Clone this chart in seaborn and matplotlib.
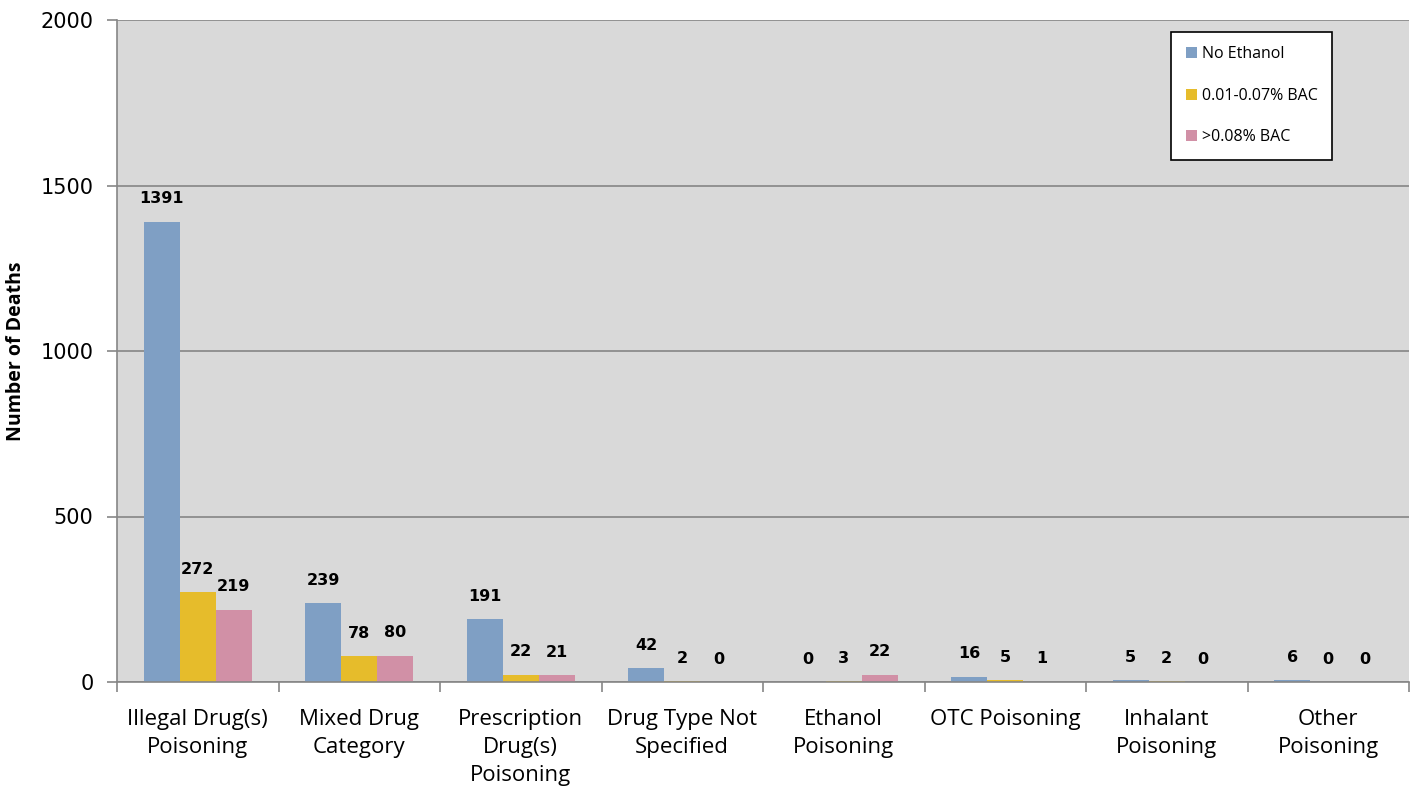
import pandas as pd
import matplotlib.pyplot as plt
import seaborn as sns

sns.set_style("white")
plt.rcParams["text.color"] = "black"
plt.rcParams["axes.labelcolor"] = "black"
plt.rcParams["xtick.color"] = "black"
plt.rcParams["ytick.color"] = "black"

categories = ["Illegal Drug(s)\nPoisoning", "Mixed Drug\nCategory", "Prescription\nDrug(s)\nPoisoning",
              "Drug Type Not\nSpecified", "Ethanol\nPoisoning", "OTC Poisoning",
              "Inhalant\nPoisoning", "Other\nPoisoning"]
no_ethanol = [1391, 239, 191, 42, 0, 16, 5, 6]
low_bac = [272, 78, 22, 2, 3, 5, 2, 0]
high_bac = [219, 80, 21, 0, 22, 1, 0, 0]
series = ["No Ethanol", "0.01-0.07% BAC", ">0.08% BAC"]
colors = ["#7F9FC4", "#E6BC2B", "#D190A6"]

rows = []
for name, vals in zip(series, [no_ethanol, low_bac, high_bac]):
    for cat, v in zip(categories, vals):
        rows.append({"category": cat, "group": name, "deaths": v})
df = pd.DataFrame(rows)

fig = plt.figure(figsize=(14.15, 7.99), dpi=100)
ax = fig.add_axes([117 / 1415, 1 - 682 / 799, 1292 / 1415, 662 / 799])
ax.set_facecolor("#D9D9D9")

sns.barplot(data=df, x="category", y="deaths", hue="group", hue_order=series,
            palette=colors, width=0.67, gap=0, saturation=1, linewidth=0,
            ax=ax, legend=True)

# value labels above each bar
for cont in ax.containers:
    ax.bar_label(cont, padding=11, fontsize=11.5, fontweight="bold",
                 family="DejaVu Sans", color="black")

ax.set_ylim(0, 2000)
ax.set_xlim(-0.5, 7.5)
ax.set_yticks([0, 500, 1000, 1500, 2000])
ax.yaxis.grid(True, color="#868686", linewidth=1.2)
ax.set_axisbelow(True)
ax.set_xlabel("")
ax.set_ylabel("Number of Deaths", fontsize=14, fontweight="bold", family="Open Sans")
ax.yaxis.set_label_coords(-0.0705, 0.5)

for s in ["top", "right"]:
    ax.spines[s].set_visible(False)
for s in ["left", "bottom"]:
    ax.spines[s].set_color("#868686")
    ax.spines[s].set_linewidth(1.2)

ax.tick_params(axis="y", left=True, length=7, width=1.2, color="#868686",
               labelsize=15, pad=10)
ax.tick_params(axis="x", bottom=False, labelsize=16, pad=16)
for lab in ax.get_xticklabels():
    lab.set_family("Open Sans")
    lab.set_linespacing(1.42)
# tick marks between the categories
ax.set_xticks([i + 0.5 for i in range(-1, 8)], minor=True)
ax.tick_params(axis="x", which="minor", bottom=True, length=7, color="#868686", width=1.2)

leg = ax.legend(loc="upper right", bbox_to_anchor=(0.9404, 0.982), frameon=True,
                fancybox=False, edgecolor="black", facecolor="white", framealpha=1,
                fontsize=11.5, handlelength=0.7, handleheight=0.7, handletextpad=0.3,
                labelspacing=1.6, borderpad=0.9, borderaxespad=0)
leg.get_frame().set_linewidth(1.2)
for t in leg.get_texts():
    t.set_family("Open Sans")

fig.savefig("out.png", dpi=100)
